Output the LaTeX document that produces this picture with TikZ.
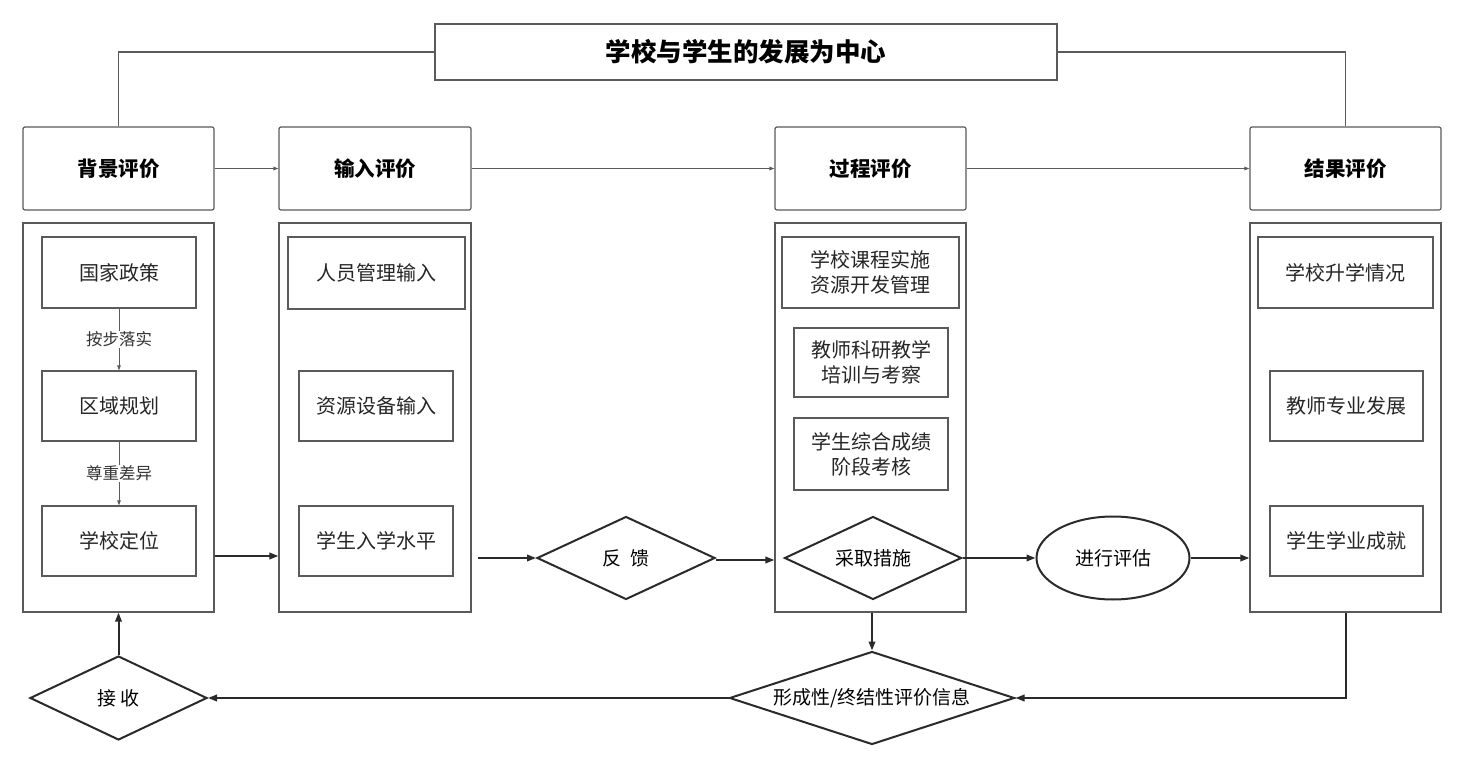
\documentclass[tikz,border=0pt]{standalone}
\usepackage{fontspec}
\setmainfont{Noto Sans CJK SC}
\usetikzlibrary{shapes.geometric,arrows.meta}
\definecolor{boxline}{HTML}{5A5A5A}
\definecolor{darkline}{HTML}{2A2A2A}
\begin{document}
\begin{tikzpicture}[x=1pt,y=-1pt,
  hdr/.style={draw=boxline,line width=1.2pt,rounded corners=2pt,inner sep=0pt,font=\fontsize{20.5}{24}\selectfont\bfseries},
  cont/.style={draw=boxline,line width=1.2pt,inner sep=0pt},
  inbox/.style={draw=boxline,line width=1.2pt,inner sep=0pt,align=center,font=\fontsize{20}{25}\selectfont,text=black!85},
  dia/.style={draw=darkline,line width=2pt,diamond,inner sep=0pt,font=\fontsize{19}{22}\selectfont},
  thinarr/.style={draw=boxline,line width=0.9pt,-{Triangle[length=5pt,width=3.5pt]}},
  thickarr/.style={draw=darkline,line width=2pt,-{Triangle[length=9pt,width=6.5pt]}},
  lbl/.style={fill=white,inner sep=1pt,font=\fontsize{16.5}{19}\selectfont,text=black!80}]
\useasboundingbox[fill=white] (0,0) rectangle (1457,767);
% title
\node[draw=boxline,line width=1.2pt,minimum width=622,minimum height=56,inner sep=0pt,font=\fontsize{25.5}{28}\selectfont\bfseries] (title) at (746,52) {学校与学生的发展为中心};
% headers
\node[hdr,minimum width=191,minimum height=83] (bgh) at (118.5,168.5) {背景评价};
\node[hdr,minimum width=192,minimum height=83] (inh) at (375,168.5) {输入评价};
\node[hdr,minimum width=191,minimum height=83] (pch) at (870.5,168.5) {过程评价};
\node[hdr,minimum width=191,minimum height=83] (rsh) at (1345.5,168.5) {结果评价};
% containers
\node[cont,minimum width=191,minimum height=389] (bgc) at (118.5,417.5) {};
\node[cont,minimum width=192,minimum height=389] (inc) at (375,417.5) {};
\node[cont,minimum width=191,minimum height=389] (pcc) at (870.5,417.5) {};
\node[cont,minimum width=191,minimum height=389] (rc) at (1345.5,417.5) {};
% background inner
\node[inbox,minimum width=154,minimum height=71] (gj) at (119,272.5) {国家政策};
\node[inbox,minimum width=154,minimum height=70] (qy) at (119,406) {区域规划};
\node[inbox,minimum width=154,minimum height=70] (xd) at (119,541) {学校定位};
% input inner
\node[inbox,minimum width=177,minimum height=72] (ry) at (376.5,273) {人员管理输入};
\node[inbox,minimum width=154,minimum height=70] (zy) at (376,406) {资源设备输入};
\node[inbox,minimum width=154,minimum height=70] (rx) at (376,541) {学生入学水平};
% process inner
\node[inbox,minimum width=177,minimum height=71] (kc) at (870.5,272.5) {学校课程实施\\资源开发管理};
\node[inbox,minimum width=154,minimum height=69] (jk) at (871,362.5) {教师科研教学\\培训与考察};
\node[inbox,minimum width=154,minimum height=72] (xs) at (871,454) {学生综合成绩\\阶段考核};
% result inner
\node[inbox,minimum width=175,minimum height=71] (sx) at (1345.5,272.5) {学校升学情况};
\node[inbox,minimum width=153,minimum height=70] (zf) at (1346.5,406) {教师专业发展};
\node[inbox,minimum width=153,minimum height=70] (xy) at (1346.5,541) {学生学业成就};
% decision shapes
\node[dia,aspect=2,minimum width=178,minimum height=83] (fb) at (626,558) {反\hspace{0.5em}馈};
\node[dia,aspect=2,minimum width=177,minimum height=83] (cq) at (873,558) {采取措施};
\node[draw=darkline,line width=2pt,ellipse,inner sep=0pt,minimum width=153,minimum height=83,font=\fontsize{19}{22}\selectfont] (pg) at (1113,558) {进行评估};
\node[dia,aspect=3.2,minimum width=285,minimum height=93] (xc) at (872,698) {形成性/终结性评价信息};
\node[dia,aspect=2,minimum width=177,minimum height=84] (rcv) at (118.5,698) {接\hspace{0.2em}收};
% title links
\draw[boxline,line width=1.2pt] (title.west) -| (bgh.north);
\draw[boxline,line width=1.2pt] (title.east) -| (rsh.north);
% header arrows
\draw[thinarr] (bgh.east) -- (inh.west);
\draw[thinarr] (inh.east) -- (pch.west);
\draw[thinarr] (pch.east) -- (rsh.west);
% background inner arrows
\draw[thinarr] (gj.south) -- node[lbl]{按步落实} (qy.north);
\draw[thinarr] (qy.south) -- node[lbl]{尊重差异} (xd.north);
% main flow
\draw[thickarr] ([yshift=2]bgc.east |- fb.center) -- ([yshift=2]inc.west |- fb.center);
\draw[thickarr] ([xshift=6]inc.east |- fb.center) -- (fb.west);
\draw[thickarr] ([yshift=-2]fb.east) -- ([yshift=-2]fb.east -| pcc.west);
\draw[thickarr] (cq.east) -- (pg.west);
\draw[thickarr] (pg.east) -- (pg.east -| rc.west);
\draw[thickarr] (xc.north |- pcc.south) -- (xc.north);
\draw[thickarr] (rc.south) |- (xc.east);
\draw[thickarr] (xc.west) -- (rcv.east);
\draw[thickarr] (rcv.north) -- (bgc.south);
\end{tikzpicture}
\end{document}
